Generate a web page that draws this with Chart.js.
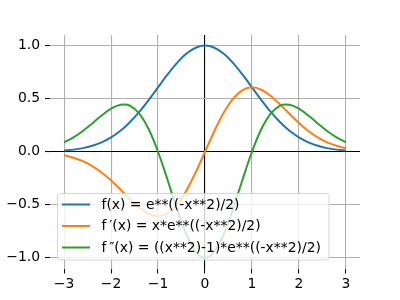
<!DOCTYPE html>
<html>
<head>
<meta charset="utf-8">
<script src="https://cdn.jsdelivr.net/npm/chart.js@4"></script>
<style>
  html, body { margin: 0; padding: 0; background: #fff; }
  #wrap { width: 400px; height: 300px; }
</style>
</head>
<body>
<div id="wrap"><canvas id="chart" width="400" height="300"></canvas></div>
<script>
  // x positions and values
  const xValues = [-3, -2.8, -2.6, -2.4, -2.2, -2, -1.8, -1.7, -1.6, -1.4, -1.2, -1, -0.8, -0.6, -0.4, -0.2,
    0, 0.2, 0.4, 0.6, 0.8, 1, 1.2, 1.4, 1.6, 1.7, 1.8, 2, 2.2, 2.4, 2.6, 2.8, 3];
  const fValues = [0.011, 0.020, 0.034, 0.056, 0.089, 0.135, 0.198, 0.236, 0.278, 0.375, 0.487, 0.607, 0.726, 0.835, 0.923, 0.980,
    1.000, 0.980, 0.923, 0.835, 0.726, 0.607, 0.487, 0.375, 0.278, 0.236, 0.198, 0.135, 0.089, 0.056, 0.034, 0.020, 0.011];
  const f1Values = [-0.033, -0.056, -0.089, -0.135, -0.196, -0.271, -0.356, -0.401, -0.445, -0.525, -0.584, -0.607, -0.581, -0.501, -0.369, -0.196,
    0.000, 0.196, 0.369, 0.501, 0.581, 0.607, 0.584, 0.525, 0.445, 0.401, 0.356, 0.271, 0.196, 0.135, 0.089, 0.056, 0.033];
  const f2Values = [0.089, 0.136, 0.196, 0.267, 0.341, 0.406, 0.443, 0.446, 0.434, 0.360, 0.214, 0.000, -0.261, -0.535, -0.775, -0.941,
    -1.000, -0.941, -0.775, -0.535, -0.261, 0.000, 0.214, 0.360, 0.434, 0.446, 0.443, 0.406, 0.341, 0.267, 0.196, 0.136, 0.089];
  const seriesLabels = [
    'f(x) = e**((-x**2)/2)',
    'f\u2009\u2032(x) = x*e**((-x**2)/2)',
    'f\u2009\u2033(x) = ((x**2)-1)*e**((-x**2)/2)'
  ];
  const seriesColors = ['#1f77b4', '#ff7f0e', '#2ca02c'];
  const xTicks = [-3, -2, -1, 0, 1, 2, 3];
  const yTicks = [-1, -0.5, 0, 0.5, 1];

  const font = { family: 'DejaVu Sans', size: 13.9 };
  const minus = s => String(s).replace('-', '\u2212');

  function toPoints(ys) {
    return xValues.map((x, i) => ({ x: x, y: ys[i] }));
  }

  // matplotlib style legend drawn inside the plot
  const boxLegend = {
    id: 'boxLegend',
    afterDatasetsDraw(chart) {
      const ctx = chart.ctx;
      const left = 57.5, top = 193.5, w = 271.5, h = 66.5, r = 3;
      ctx.save();
      ctx.beginPath();
      ctx.roundRect(left, top, w, h, r);
      ctx.fillStyle = 'rgba(255,255,255,0.8)';
      ctx.fill();
      ctx.strokeStyle = 'rgba(204,204,204,0.8)';
      ctx.lineWidth = 1;
      ctx.stroke();
      ctx.font = font.size + 'px ' + font.family;
      ctx.textBaseline = 'middle';
      ctx.fillStyle = '#000';
      const rows = [204.5, 226, 247.5];
      chart.data.datasets.forEach((ds, i) => {
        ctx.beginPath();
        ctx.moveTo(62, rows[i]);
        ctx.lineTo(90, rows[i]);
        ctx.strokeStyle = ds.borderColor;
        ctx.lineWidth = 2;
        ctx.stroke();
        ctx.fillText(ds.label, 101.5, rows[i] + 0.5);
      });
      ctx.restore();
    }
  };

  new Chart(document.getElementById('chart'), {
    type: 'line',
    data: {
      datasets: [0, 1, 2].map(i => ({
        label: seriesLabels[i],
        data: toPoints([fValues, f1Values, f2Values][i]),
        borderColor: seriesColors[i],
        borderWidth: 2,
        pointRadius: 0,
        cubicInterpolationMode: 'monotone',
        fill: false,
        order: 2 - i
      }))
    },
    options: {
      responsive: false,
      animation: false,
      layout: { padding: { top: 35, right: 40, left: 0, bottom: 0 } },
      plugins: { legend: { display: false }, tooltip: { enabled: false } },
      scales: {
        x: {
          type: 'linear',
          min: -3.3,
          max: 3.3,
          afterBuildTicks: axis => { axis.ticks = xTicks.map(v => ({ value: v })); },
          afterFit: scale => { scale.height = 31.5; },
          border: { display: false },
          grid: {
            color: c => (c.tick && c.tick.value === 0) ? '#000' : '#b0b0b0',
            lineWidth: 1.1,
            tickColor: '#000',
            tickLength: 5,
            tickWidth: 1
          },
          ticks: { color: '#000', font: font, padding: 3, maxRotation: 0, callback: v => minus(v) }
        },
        y: {
          min: -1.1,
          max: 1.1,
          afterBuildTicks: axis => { axis.ticks = yTicks.map(v => ({ value: v })); },
          afterFit: scale => { scale.width = 50; },
          border: { display: false },
          grid: {
            color: c => (c.tick && c.tick.value === 0) ? '#000' : '#b0b0b0',
            lineWidth: 1.1,
            tickColor: '#000',
            tickLength: 5,
            tickWidth: 1
          },
          ticks: { color: '#000', font: font, padding: 5, callback: v => minus(v.toFixed(1)) }
        }
      }
    },
    plugins: [boxLegend]
  });
</script>
</body>
</html>
